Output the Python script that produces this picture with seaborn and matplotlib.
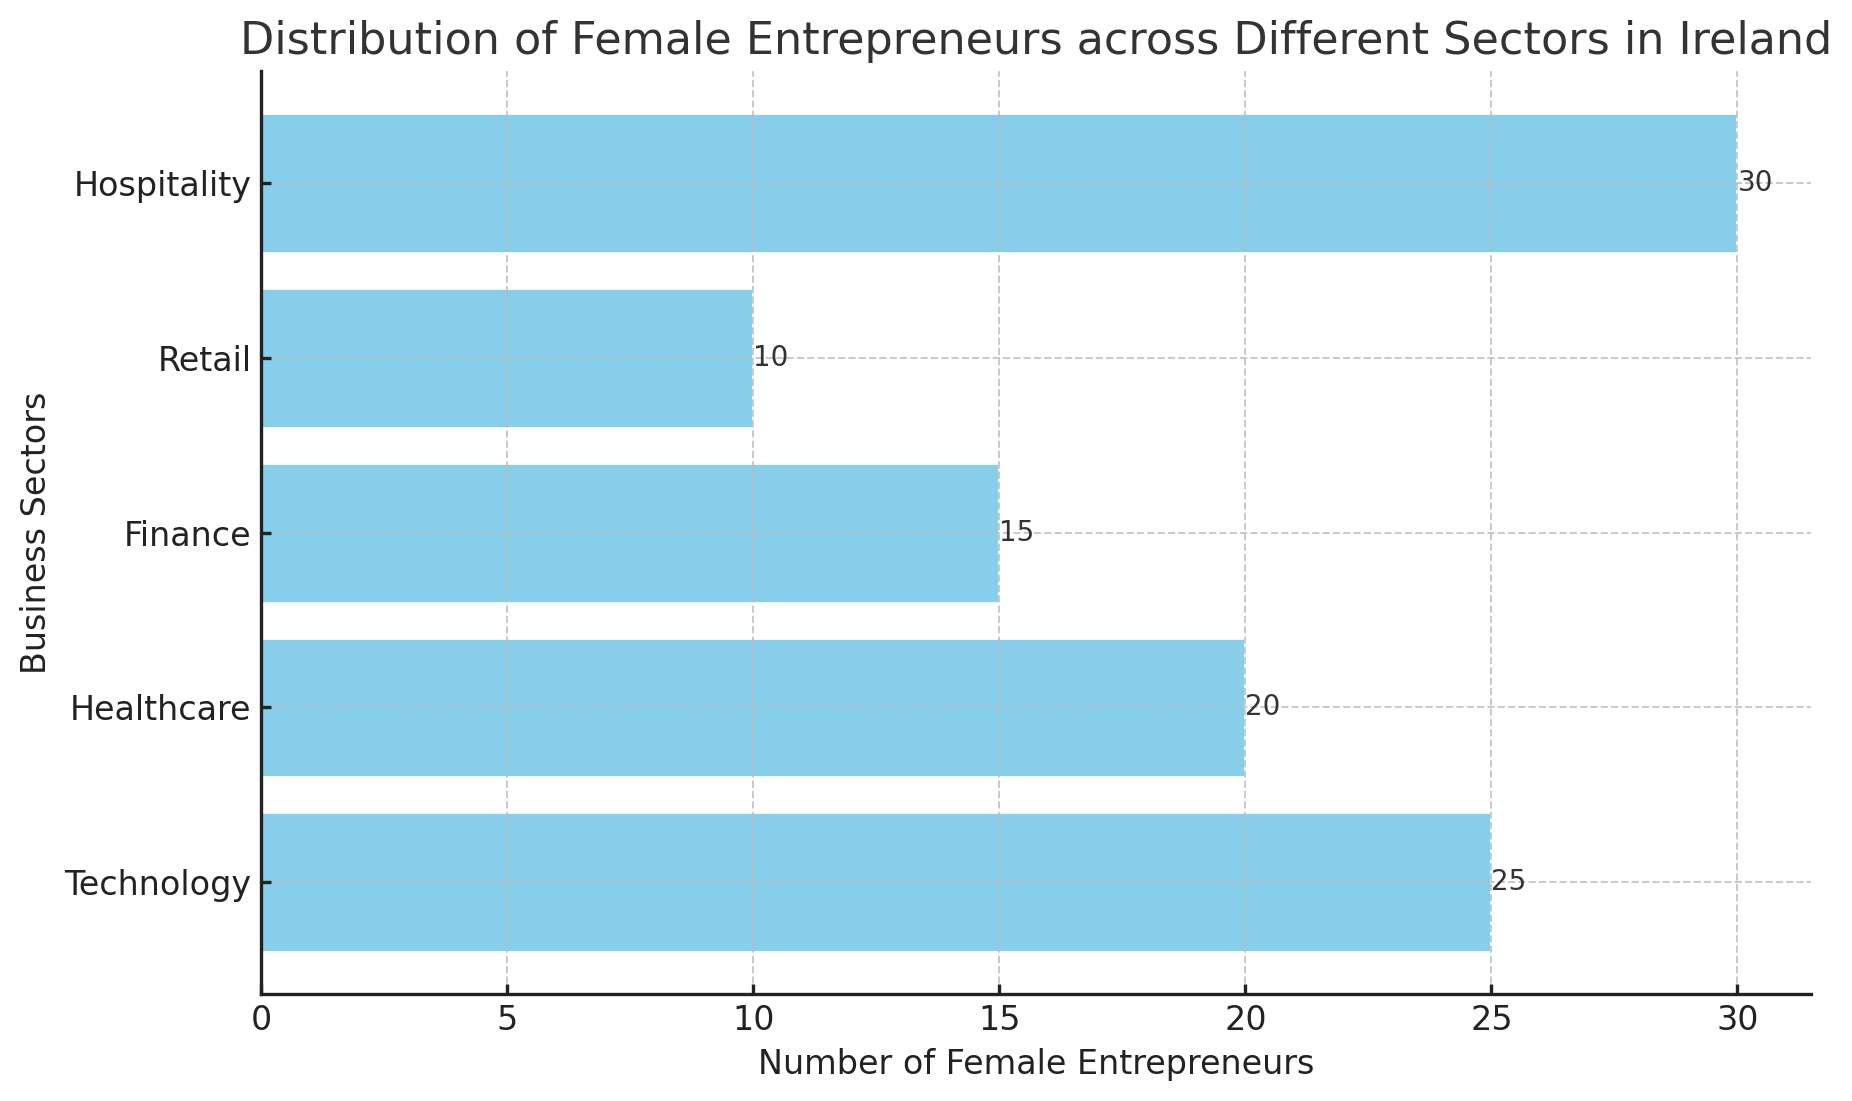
import matplotlib
matplotlib.use("Agg")
import matplotlib.pyplot as plt
import pandas as pd
import seaborn as sns

sectors = ["Technology", "Healthcare", "Finance", "Retail", "Hospitality"]
counts = [25, 20, 15, 10, 30]

df = pd.DataFrame({"sector": sectors, "count": counts})

sns.set_style("ticks")
plt.rcParams["font.family"] = ["DejaVu Sans"]

fig, ax = plt.subplots(figsize=(9.26, 5.505), dpi=200)
fig.subplots_adjust(left=0.141, right=0.978, top=0.9355, bottom=0.097)

order = sectors[::-1]
sns.barplot(data=df, y="sector", x="count", order=order,
            color="skyblue", saturation=1, width=0.8, ax=ax)

for s, c in zip(sectors, counts):
    ax.text(c, order.index(s), str(c), va="center", ha="left",
            fontsize=10, color="#333333")

ax.set_xlim(0, 31.5)
ax.set_ylim(4.64, -0.64)
ax.set_xticks([0, 5, 10, 15, 20, 25, 30])
ax.set_title("Distribution of Female Entrepreneurs across Different Sectors in Ireland",
             fontsize=16, color="#333333")
ax.set_xlabel("Number of Female Entrepreneurs", fontsize=12, color="#222222")
ax.set_ylabel("Business Sectors", fontsize=12, color="#222222")
ax.tick_params(labelsize=12, colors="#222222", width=1.2, direction="in",
               length=3.5, pad=3.5)
ax.grid(True, linestyle="--", color="#bbbbbb", linewidth=0.7, alpha=0.8)
ax.set_axisbelow(False)
for side in ["top", "right"]:
    ax.spines[side].set_visible(False)
for side in ["left", "bottom"]:
    ax.spines[side].set_linewidth(1.2)
    ax.spines[side].set_color("#222222")
    ax.spines[side].set_zorder(5)

fig.savefig("out.png", dpi=200)
